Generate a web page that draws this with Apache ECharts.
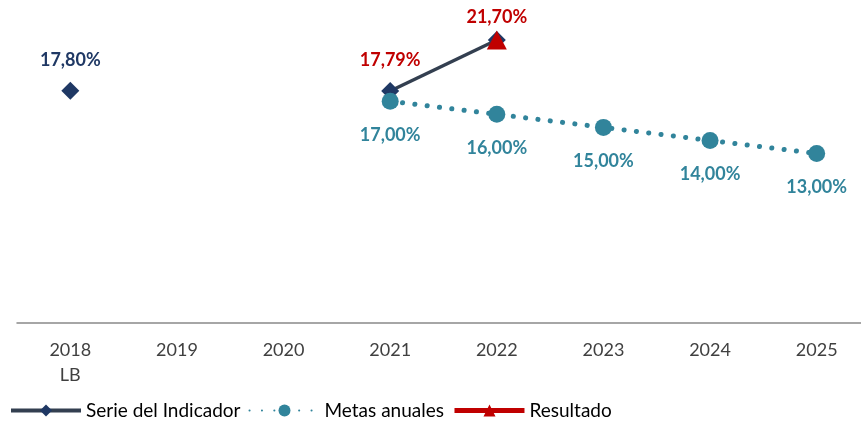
<!DOCTYPE html>
<html>
<head>
<meta charset="utf-8">
<script src="https://cdn.jsdelivr.net/npm/echarts@6/dist/echarts.min.js"></script>
<style>
  html, body { margin: 0; padding: 0; background: #fff; }
  #chart { width: 861px; height: 427px; }
</style>
</head>
<body>
<div id="chart"></div>
<script>
const years = ["2018\nLB", "2019", "2020", "2021", "2022", "2023", "2024", "2025"];
const serieIndicador = [17.80, null, null, 17.79, 21.70, null, null, null];
const metasAnuales = [null, null, null, 17.00, 16.00, 15.00, 14.00, 13.00];
const resultado = [null, null, null, null, 21.70, null, null, null];
// colour of each label on the indicator series
const serieLabelColors = ["#1F3864", null, null, "#C00000", "#C00000", null, null, null];

const FONT = "Lato";
const fmt = function (p) {
    return p.value.toFixed(2).replace(".", ",") + "%";
};

const chart = echarts.init(document.getElementById("chart"));
const option = {
    animation: false,
    textStyle: { fontFamily: FONT },
    grid: { left: 17, top: 10, bottom: 104, right: -9, outerBoundsMode: "none", containLabel: false },
    legend: {
        bottom: 2,
        left: 4,
        itemWidth: 70,
        itemHeight: 15,
        itemGap: 8,
        textStyle: { fontFamily: FONT, fontSize: 19, color: "#000" },
        data: [
            { name: "Serie del Indicador", lineStyle: { width: 4 } },
            { name: "Metas anuales" },
            { name: "Resultado", lineStyle: { width: 5 } }
        ]
    },
    xAxis: {
        type: "category",
        data: years,
        boundaryGap: true,
        axisLine: { lineStyle: { color: "#898989", width: 1.5 } },
        axisTick: { length: 5, lineStyle: { color: "#898989", width: 1.5 } },
        axisLabel: { color: "#404040", fontSize: 18, fontFamily: FONT, margin: 15, lineHeight: 25 }
    },
    yAxis: {
        type: "value",
        min: 0,
        max: 24,
        show: false,
        splitLine: { show: false }
    },
    series: [
        {
            name: "Serie del Indicador",
            type: "line",
            data: serieIndicador.map(function (v, i) {
                if (v === null) return null;
                return { value: v, label: { color: serieLabelColors[i] } };
            }),
            connectNulls: false,
            symbol: "diamond",
            symbolSize: 18,
            itemStyle: { color: "#1F3864" },
            lineStyle: { color: "#333F50", width: 3.5 },
            label: {
                show: true,
                position: "top",
                distance: 13,
                fontSize: 18,
                fontWeight: "bold",
                fontFamily: FONT,
                formatter: function (p) {
                    return p.dataIndex === 4 ? "" : fmt(p);
                }
            },
            z: 3
        },
        {
            name: "Metas anuales",
            type: "line",
            data: metasAnuales,
            symbol: "circle",
            symbolSize: 17,
            itemStyle: { color: "#31849B" },
            lineStyle: { color: "#31849B", width: 5, type: [0.1, 12.3], cap: "round" },
            label: {
                show: true,
                position: "bottom",
                distance: 16,
                color: "#31849B",
                fontSize: 18,
                fontWeight: "bold",
                fontFamily: FONT,
                formatter: fmt
            },
            z: 4
        },
        {
            name: "Resultado",
            type: "line",
            data: resultado,
            symbol: "triangle",
            symbolSize: [20, 19],
            itemStyle: { color: "#C00000" },
            lineStyle: { color: "#C00000", width: 4 },
            label: {
                show: true,
                position: "top",
                distance: 4,
                color: "#C00000",
                fontSize: 18,
                fontWeight: "bold",
                fontFamily: FONT,
                formatter: fmt
            },
            z: 5
        }
    ]
};
chart.setOption(option);
</script>
</body>
</html>
